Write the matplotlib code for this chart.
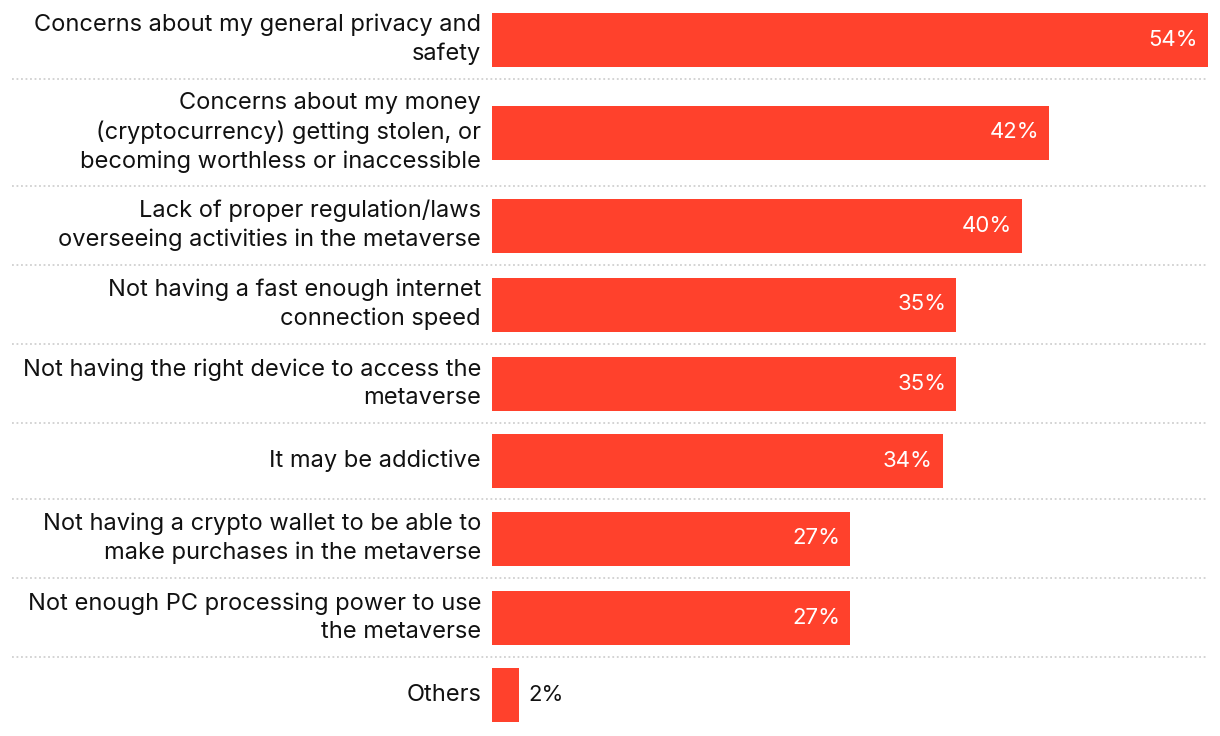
import matplotlib
matplotlib.use("Agg")
import matplotlib.pyplot as plt
from matplotlib.transforms import blended_transform_factory

categories = [
    "Concerns about my general privacy and\nsafety",
    "Concerns about my money\n(cryptocurrency) getting stolen, or\nbecoming worthless or inaccessible",
    "Lack of proper regulation/laws\noverseeing activities in the metaverse",
    "Not having a fast enough internet\nconnection speed",
    "Not having the right device to access the\nmetaverse",
    "It may be addictive",
    "Not having a crypto wallet to be able to\nmake purchases in the metaverse",
    "Not enough PC processing power to use\nthe metaverse",
    "Others",
]
values = [54, 42, 40, 35, 35, 34, 27, 27, 2]

BAR_COLOR = "#FF412C"
FONT = ["Inter", "DejaVu Sans"]

W, H = 1220, 736
fig = plt.figure(figsize=(W / 100, H / 100), dpi=100)
ax = fig.add_axes([492 / W, 0, (1208 - 492) / W, 1])

# row layout (pixel units)
heights = [max(76, 23 + 28 * (c.count("\n") + 1)) for c in categories]
tops = []
t = 0
for h in heights:
    tops.append(t)
    t += h
centers = [tp + h / 2 for tp, h in zip(tops, heights)]

ax.set_xlim(0, max(values))
ax.set_ylim(H, 0)
ax.axis("off")

ax.barh(centers, values, height=54, color=BAR_COLOR, left=0)

px = max(values) / (1208 - 492)
trans = blended_transform_factory(fig.transFigure, ax.transData)
for i, (c, v, cy) in enumerate(zip(categories, values, centers)):
    ax.text(-11 * px, cy, c, ha="right", va="center",
            fontsize=17, family=FONT, color="#111111", linespacing=1.36)
    if v >= 10:
        ax.text(v - 10 * px, cy, f"{v}%", ha="right", va="center",
                fontsize=16, family=FONT, color="white")
    else:
        ax.text(v + 10 * px, cy, f"{v}%", ha="left", va="center",
                fontsize=16, family=FONT, color="#111111")
    if i < len(categories) - 1:
        yb = tops[i] + heights[i]
        ax.plot([12 / W, 1208 / W], [yb, yb], transform=trans, color="#d0d0d0",
                lw=1.3, ls=(0, (1, 1.5)), clip_on=False)

fig.savefig("out.png", dpi=100)
